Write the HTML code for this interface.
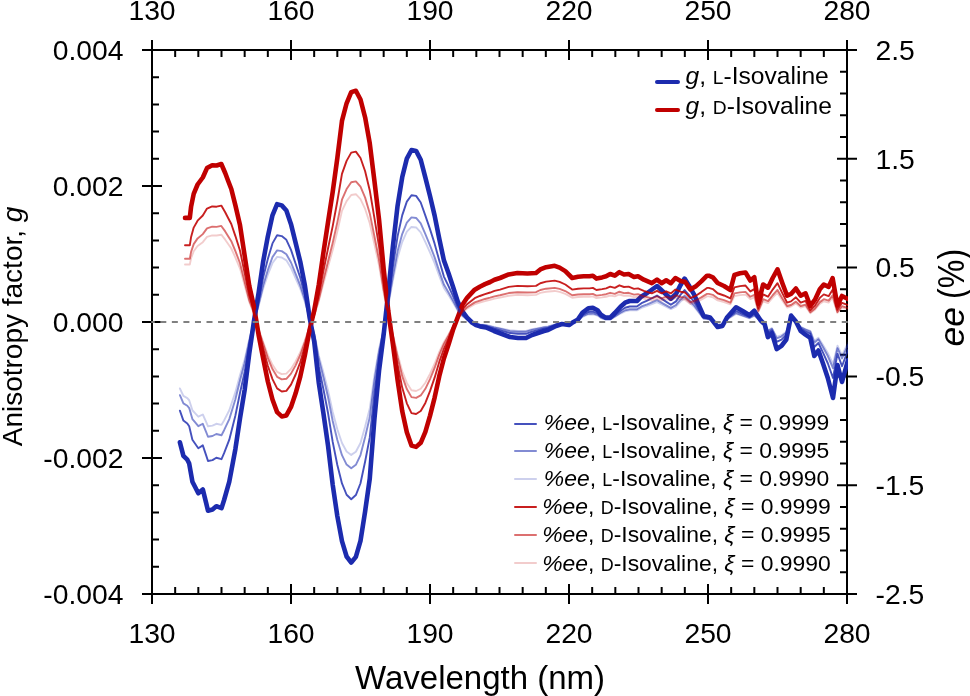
<!DOCTYPE html>
<html><head><meta charset="utf-8"><style>
html,body{margin:0;padding:0;background:#fff;width:970px;height:696px;overflow:hidden}
svg{display:block;will-change:transform}
text{font-family:"Liberation Sans",sans-serif}
</style></head><body>
<svg width="970" height="696" viewBox="0 0 970 696">
<rect width="970" height="696" fill="#fff"/>
<g stroke="#000" stroke-width="2" fill="none">
<rect x="152" y="50" width="695" height="544"/>
<path d="M152.00 40 V60 M152.00 584 V604 M175.17 50 V57 M175.17 587 V594 M198.33 50 V57 M198.33 587 V594 M221.50 50 V57 M221.50 587 V594 M244.67 50 V57 M244.67 587 V594 M267.83 50 V57 M267.83 587 V594 M291.00 40 V60 M291.00 584 V604 M314.17 50 V57 M314.17 587 V594 M337.33 50 V57 M337.33 587 V594 M360.50 50 V57 M360.50 587 V594 M383.67 50 V57 M383.67 587 V594 M406.83 50 V57 M406.83 587 V594 M430.00 40 V60 M430.00 584 V604 M453.17 50 V57 M453.17 587 V594 M476.33 50 V57 M476.33 587 V594 M499.50 50 V57 M499.50 587 V594 M522.67 50 V57 M522.67 587 V594 M545.83 50 V57 M545.83 587 V594 M569.00 40 V60 M569.00 584 V604 M592.17 50 V57 M592.17 587 V594 M615.33 50 V57 M615.33 587 V594 M638.50 50 V57 M638.50 587 V594 M661.67 50 V57 M661.67 587 V594 M684.83 50 V57 M684.83 587 V594 M708.00 40 V60 M708.00 584 V604 M731.17 50 V57 M731.17 587 V594 M754.33 50 V57 M754.33 587 V594 M777.50 50 V57 M777.50 587 V594 M800.67 50 V57 M800.67 587 V594 M823.83 50 V57 M823.83 587 V594 M847.00 40 V60 M847.00 584 V604 M142 50.00 H162 M152 77.20 H159 M152 104.40 H159 M152 131.60 H159 M152 158.80 H159 M142 186.00 H162 M152 213.20 H159 M152 240.40 H159 M152 267.60 H159 M152 294.80 H159 M142 322.00 H162 M152 349.20 H159 M152 376.40 H159 M152 403.60 H159 M152 430.80 H159 M142 458.00 H162 M152 485.20 H159 M152 512.40 H159 M152 539.60 H159 M152 566.80 H159 M142 594.00 H162 M837 50.00 H857 M840 71.76 H847 M840 93.52 H847 M840 115.28 H847 M840 137.04 H847 M837 158.80 H857 M840 180.56 H847 M840 202.32 H847 M840 224.08 H847 M840 245.84 H847 M837 267.60 H857 M840 289.36 H847 M840 311.12 H847 M840 332.88 H847 M840 354.64 H847 M837 376.40 H857 M840 398.16 H847 M840 419.92 H847 M840 441.68 H847 M840 463.44 H847 M837 485.20 H857 M840 506.96 H847 M840 528.72 H847 M840 550.48 H847 M840 572.24 H847 M837 594.00 H857"/>
</g>
<defs><clipPath id="pc"><rect x="140" y="40" width="708" height="560"/></clipPath></defs>
<g fill="none" stroke-linejoin="round" stroke-linecap="round" clip-path="url(#pc)">
<path d="M179.90 442.30 L183.40 455.80 L187.30 459.70 L189.20 463.60 L192.40 481.70 L195.00 486.80 L198.30 493.30 L202.80 489.40 L206.00 502.40 L208.00 510.70 L212.50 509.50 L216.30 506.20 L221.50 508.20 L224.10 500.00 L229.30 481.70 L235.40 448.96 L240.03 418.09 L244.67 389.84 L249.30 353.26 L253.93 321.39 L258.57 293.17 L263.20 261.41 L267.83 236.42 L272.47 215.32 L277.10 204.20 L281.73 205.38 L286.37 210.45 L291.00 224.14 L295.63 242.86 L300.27 261.81 L304.90 285.50 L309.53 317.00 L314.17 341.31 L318.80 382.99 L323.43 413.30 L328.07 445.89 L332.70 484.76 L337.33 516.07 L341.97 541.06 L346.60 556.48 L351.23 562.53 L355.87 556.85 L360.50 540.85 L365.13 511.27 L369.77 478.66 L374.40 419.10 L379.03 370.67 L383.67 334.55 L388.30 291.90 L392.93 246.34 L397.57 205.79 L402.20 177.31 L406.83 158.61 L411.47 150.01 L416.10 150.89 L420.73 159.78 L425.37 177.57 L430.00 196.01 L434.63 215.64 L439.27 238.68 L443.90 260.37 L448.53 273.25 L453.17 287.26 L457.80 301.66 L462.43 311.45 L467.07 317.62 L472.00 322.50 L476.00 325.10 L480.00 326.40 L486.00 327.50 L494.00 331.00 L502.00 334.00 L510.00 337.00 L518.00 338.00 L526.00 338.00 L532.00 335.00 L538.00 333.00 L544.00 331.00 L548.00 330.00 L556.00 326.00 L562.00 324.00 L569.00 325.00 L572.20 322.80 L578.00 319.40 L582.60 312.50 L588.30 308.40 L592.90 307.90 L597.50 310.20 L601.00 314.80 L605.60 317.60 L610.20 317.60 L614.80 313.00 L620.50 306.70 L625.10 302.70 L629.70 301.00 L636.90 301.00 L641.50 296.40 L647.20 293.00 L657.00 286.00 L664.50 293.00 L670.80 298.70 L676.00 294.00 L680.60 284.90 L684.60 278.60 L688.60 284.90 L694.40 295.20 L699.00 305.60 L703.60 316.00 L710.00 317.40 L717.60 327.00 L722.40 326.00 L727.20 317.20 L736.00 307.30 L743.10 311.30 L749.50 315.20 L754.30 310.80 L760.70 320.50 L764.70 324.30 L767.90 337.10 L771.90 333.10 L776.70 349.10 L781.50 345.90 L786.30 339.50 L791.10 315.60 L795.90 321.50 L800.70 331.00 L805.50 334.70 L810.30 337.90 L814.30 356.00 L818.40 350.50 L823.00 363.50 L827.80 378.00 L833.00 398.00 L837.50 365.00 L842.00 382.00 L848.00 360.00" stroke="#1C2BAE" stroke-width="4.6"/>
<path d="M185.00 217.90 L189.80 217.90 L191.10 206.60 L193.70 193.90 L197.60 184.50 L202.80 177.50 L207.00 168.10 L212.20 165.20 L216.60 165.50 L221.30 164.00 L225.20 173.00 L228.00 180.50 L231.30 189.00 L235.40 205.39 L240.03 225.33 L244.67 255.74 L249.30 286.06 L253.93 306.49 L258.57 334.69 L263.20 358.44 L267.83 381.49 L272.47 399.46 L277.10 412.13 L281.73 416.41 L286.37 415.43 L291.00 406.95 L295.63 393.28 L300.27 376.64 L304.90 355.00 L309.53 330.31 L314.17 310.60 L318.80 284.65 L323.43 252.52 L328.07 221.92 L332.70 191.83 L337.33 158.14 L341.97 120.92 L346.60 103.29 L351.23 92.14 L355.87 90.75 L360.50 99.48 L365.13 117.45 L369.77 143.43 L374.40 180.74 L379.03 219.41 L383.67 269.01 L388.30 311.15 L392.93 344.50 L397.57 379.87 L402.20 411.00 L406.83 432.33 L411.47 445.60 L416.10 446.88 L420.73 442.82 L425.37 431.88 L430.00 415.86 L434.63 397.57 L439.27 376.15 L443.90 358.51 L448.53 344.62 L453.17 329.32 L457.80 317.14 L462.43 304.75 L467.07 297.80 L474.70 289.70 L479.80 286.70 L485.00 284.10 L490.20 282.00 L494.50 279.80 L500.00 278.00 L508.70 274.40 L517.40 273.00 L527.40 273.50 L536.00 273.00 L540.30 269.40 L546.10 267.20 L554.70 265.80 L559.60 267.60 L565.30 271.10 L572.20 278.00 L578.00 276.80 L583.70 276.30 L589.50 276.30 L592.90 275.70 L596.40 278.60 L602.10 277.40 L606.10 276.30 L610.20 274.00 L614.80 275.70 L619.40 272.20 L624.00 274.50 L628.60 274.00 L634.00 277.00 L638.00 276.30 L643.80 279.70 L651.80 283.20 L657.00 279.70 L661.60 283.20 L666.20 280.30 L670.80 283.20 L675.40 278.00 L680.60 280.90 L685.20 282.00 L690.30 289.50 L695.50 286.60 L701.30 281.40 L707.00 275.70 L708.80 275.70 L712.80 277.30 L717.60 283.00 L724.00 286.00 L730.40 290.00 L734.40 275.00 L740.00 273.30 L745.50 272.50 L750.30 280.50 L754.30 277.30 L758.30 303.70 L763.10 284.50 L768.00 287.70 L772.70 278.00 L777.50 269.30 L782.30 282.90 L787.10 295.70 L791.00 294.00 L795.90 288.50 L800.70 295.70 L805.50 293.30 L810.30 306.00 L815.00 299.70 L819.80 289.30 L823.80 284.50 L828.60 286.90 L832.60 278.10 L837.40 305.50 L842.00 296.00 L848.00 299.00" stroke="#C00000" stroke-width="4.6"/>
<path d="M179.90 410.64 L183.40 420.58 L187.30 423.46 L189.20 426.33 L192.40 439.67 L195.00 443.42 L198.30 448.21 L202.80 445.34 L206.00 454.92 L208.00 461.03 L212.50 460.15 L216.30 457.72 L221.50 459.19 L224.10 453.15 L229.30 439.67 L235.40 415.54 L240.03 392.80 L244.67 371.98 L249.30 345.04 L253.93 321.55 L258.57 300.76 L263.20 277.36 L267.83 258.94 L272.47 243.40 L277.10 235.20 L281.73 236.08 L286.37 239.81 L291.00 249.90 L295.63 263.69 L300.27 277.65 L304.90 295.11 L309.53 318.31 L314.17 336.23 L318.80 366.94 L323.43 389.27 L328.07 413.28 L332.70 441.92 L337.33 464.99 L341.97 483.41 L346.60 494.76 L351.23 499.22 L355.87 495.03 L360.50 483.25 L365.13 461.45 L369.77 437.43 L374.40 393.55 L379.03 357.86 L383.67 331.24 L388.30 299.82 L392.93 266.25 L397.57 236.38 L402.20 215.39 L406.83 201.61 L411.47 195.28 L416.10 195.92 L420.73 202.48 L425.37 215.59 L430.00 229.17 L434.63 243.63 L439.27 260.61 L443.90 276.59 L448.53 286.08 L453.17 296.40 L457.80 307.01 L462.43 314.22 L467.07 318.77 L472.00 322.37 L476.00 324.28 L480.00 325.24 L486.00 326.05 L494.00 328.63 L502.00 330.84 L510.00 333.05 L518.00 333.79 L526.00 333.79 L532.00 331.58 L538.00 330.10 L544.00 328.63 L548.00 327.89 L556.00 324.95 L562.00 323.47 L569.00 324.21 L572.20 322.59 L578.00 320.08 L582.60 315.00 L588.30 311.98 L592.90 311.61 L597.50 313.31 L601.00 316.70 L605.60 318.76 L610.20 318.76 L614.80 315.37 L620.50 310.73 L625.10 307.78 L629.70 306.53 L636.90 306.53 L641.50 303.14 L647.20 300.63 L657.00 295.48 L664.50 300.63 L670.80 304.83 L676.00 301.37 L680.60 294.66 L684.60 290.02 L688.60 294.66 L694.40 302.25 L699.00 309.92 L703.60 317.58 L710.00 318.61 L717.60 325.68 L722.40 324.95 L727.20 318.46 L736.00 311.17 L743.10 314.12 L749.50 316.99 L754.30 313.75 L760.70 320.89 L764.70 323.69 L767.90 333.13 L771.90 330.18 L776.70 341.97 L781.50 339.61 L786.30 334.89 L791.10 317.28 L795.90 321.63 L800.70 328.63 L805.50 331.36 L810.30 333.72 L814.30 347.05 L818.40 343.00 L823.00 352.58 L827.80 363.26 L833.00 378.00 L837.50 353.68 L842.00 366.21 L848.00 350.00" stroke="#1C2BAE" stroke-opacity="0.82" stroke-width="1.9"/>
<path d="M179.90 395.14 L183.40 403.35 L187.30 405.72 L189.20 408.09 L192.40 419.10 L195.00 422.20 L198.30 426.15 L202.80 423.78 L206.00 431.68 L208.00 436.73 L212.50 436.00 L216.30 433.99 L221.50 435.21 L224.10 430.22 L229.30 419.10 L235.40 399.19 L240.03 380.42 L244.67 363.25 L249.30 341.01 L253.93 321.63 L258.57 304.47 L263.20 285.16 L267.83 269.97 L272.47 257.14 L277.10 250.38 L281.73 251.10 L286.37 254.18 L291.00 262.50 L295.63 273.88 L300.27 285.40 L304.90 299.81 L309.53 318.96 L314.17 333.74 L318.80 359.08 L323.43 377.51 L328.07 397.32 L332.70 420.96 L337.33 440.00 L341.97 455.19 L346.60 464.56 L351.23 468.24 L355.87 464.79 L360.50 455.06 L365.13 437.08 L369.77 417.25 L374.40 381.04 L379.03 351.59 L383.67 329.63 L388.30 303.70 L392.93 276.00 L397.57 251.34 L402.20 234.03 L406.83 222.66 L411.47 217.43 L416.10 217.96 L420.73 223.37 L425.37 234.19 L430.00 245.40 L434.63 257.33 L439.27 271.34 L443.90 284.53 L448.53 292.36 L453.17 300.88 L457.80 309.63 L462.43 315.58 L467.07 319.33 L472.00 322.30 L476.00 323.88 L480.00 324.68 L486.00 325.34 L494.00 327.47 L502.00 329.30 L510.00 331.12 L518.00 331.73 L526.00 331.73 L532.00 329.90 L538.00 328.69 L544.00 327.47 L548.00 326.86 L556.00 324.43 L562.00 323.22 L569.00 323.82 L572.20 322.49 L578.00 320.42 L582.60 316.22 L588.30 313.73 L592.90 313.43 L597.50 314.83 L601.00 317.62 L605.60 319.32 L610.20 319.32 L614.80 316.53 L620.50 312.70 L625.10 310.27 L629.70 309.23 L636.90 309.23 L641.50 306.44 L647.20 304.37 L657.00 300.11 L664.50 304.37 L670.80 307.83 L676.00 304.98 L680.60 299.44 L684.60 295.61 L688.60 299.44 L694.40 305.71 L699.00 312.03 L703.60 318.35 L710.00 319.20 L717.60 325.04 L722.40 324.43 L727.20 319.08 L736.00 313.06 L743.10 315.49 L749.50 317.87 L754.30 315.19 L760.70 321.09 L764.70 323.40 L767.90 331.18 L771.90 328.75 L776.70 338.48 L781.50 336.53 L786.30 332.64 L791.10 318.11 L795.90 321.70 L800.70 327.47 L805.50 329.72 L810.30 331.67 L814.30 342.67 L818.40 339.33 L823.00 347.23 L827.80 356.05 L833.00 368.21 L837.50 348.14 L842.00 358.48 L848.00 345.10" stroke="#1C2BAE" stroke-opacity="0.55" stroke-width="1.9"/>
<path d="M179.90 388.48 L183.40 395.94 L187.30 398.09 L189.20 400.25 L192.40 410.25 L195.00 413.07 L198.30 416.66 L202.80 414.51 L206.00 421.69 L208.00 426.28 L212.50 425.61 L216.30 423.79 L221.50 424.89 L224.10 420.36 L229.30 410.25 L235.40 392.16 L240.03 375.10 L244.67 359.49 L249.30 339.28 L253.93 321.66 L258.57 306.07 L263.20 288.52 L267.83 274.71 L272.47 263.05 L277.10 256.90 L281.73 257.56 L286.37 260.36 L291.00 267.93 L295.63 278.27 L300.27 288.74 L304.90 301.83 L309.53 319.24 L314.17 332.67 L318.80 355.70 L323.43 372.45 L328.07 390.46 L332.70 411.94 L337.33 429.25 L341.97 443.05 L346.60 451.57 L351.23 454.91 L355.87 451.78 L360.50 442.94 L365.13 426.59 L369.77 408.57 L374.40 375.66 L379.03 348.90 L383.67 328.93 L388.30 305.36 L392.93 280.19 L397.57 257.78 L402.20 242.04 L406.83 231.71 L411.47 226.96 L416.10 227.44 L420.73 232.36 L425.37 242.19 L430.00 252.38 L434.63 263.23 L439.27 275.96 L443.90 287.94 L448.53 295.06 L453.17 302.80 L457.80 310.76 L462.43 316.17 L467.07 319.58 L472.00 322.28 L476.00 323.71 L480.00 324.43 L486.00 325.04 L494.00 326.97 L502.00 328.63 L510.00 330.29 L518.00 330.84 L526.00 330.84 L532.00 329.18 L538.00 328.08 L544.00 326.97 L548.00 326.42 L556.00 324.21 L562.00 323.11 L569.00 323.66 L572.20 322.44 L578.00 320.56 L582.60 316.75 L588.30 314.48 L592.90 314.21 L597.50 315.48 L601.00 318.02 L605.60 319.57 L610.20 319.57 L614.80 317.03 L620.50 313.55 L625.10 311.33 L629.70 310.40 L636.90 310.40 L641.50 307.85 L647.20 305.97 L657.00 302.11 L664.50 305.97 L670.80 309.12 L676.00 306.53 L680.60 301.50 L684.60 298.02 L688.60 301.50 L694.40 307.19 L699.00 312.94 L703.60 318.68 L710.00 319.46 L717.60 324.76 L722.40 324.21 L727.20 319.35 L736.00 313.88 L743.10 316.09 L749.50 318.24 L754.30 315.81 L760.70 321.17 L764.70 323.27 L767.90 330.34 L771.90 328.13 L776.70 336.98 L781.50 335.21 L786.30 331.67 L791.10 318.46 L795.90 321.72 L800.70 326.97 L805.50 329.02 L810.30 330.79 L814.30 340.79 L818.40 337.75 L823.00 344.93 L827.80 352.95 L833.00 364.00 L837.50 345.76 L842.00 355.16 L848.00 343.00" stroke="#1C2BAE" stroke-opacity="0.22" stroke-width="1.9"/>
<path d="M185.00 245.30 L189.80 245.30 L191.10 236.97 L193.70 227.62 L197.60 220.69 L202.80 215.53 L207.00 208.61 L212.20 206.47 L216.60 206.69 L221.30 205.59 L225.20 212.22 L228.00 217.74 L231.30 224.01 L235.40 236.08 L240.03 250.77 L244.67 273.18 L249.30 295.52 L253.93 310.57 L258.57 331.35 L263.20 348.85 L267.83 365.83 L272.47 379.07 L277.10 388.41 L281.73 391.56 L286.37 390.84 L291.00 384.59 L295.63 374.52 L300.27 362.26 L304.90 346.31 L309.53 328.12 L314.17 313.60 L318.80 294.48 L323.43 270.80 L328.07 248.26 L332.70 226.09 L337.33 201.27 L341.97 173.84 L346.60 160.85 L351.23 152.64 L355.87 151.62 L360.50 158.05 L365.13 171.29 L369.77 190.43 L374.40 217.92 L379.03 246.41 L383.67 282.95 L388.30 314.01 L392.93 338.58 L397.57 364.64 L402.20 387.58 L406.83 403.29 L411.47 413.07 L416.10 414.01 L420.73 411.02 L425.37 402.96 L430.00 391.15 L434.63 377.68 L439.27 361.90 L443.90 348.90 L448.53 338.67 L453.17 327.39 L457.80 318.42 L462.43 309.29 L467.07 304.17 L474.70 298.20 L479.80 295.99 L485.00 294.08 L490.20 292.53 L494.50 290.91 L500.00 289.58 L508.70 286.93 L517.40 285.90 L527.40 286.27 L536.00 285.90 L540.30 283.24 L546.10 281.62 L554.70 280.59 L559.60 281.92 L565.30 284.50 L572.20 289.58 L578.00 288.70 L583.70 288.33 L589.50 288.33 L592.90 287.89 L596.40 290.02 L602.10 289.14 L606.10 288.33 L610.20 286.63 L614.80 287.89 L619.40 285.31 L624.00 287.00 L628.60 286.63 L634.00 288.84 L638.00 288.33 L643.80 290.83 L651.80 293.41 L657.00 290.83 L661.60 293.41 L666.20 291.28 L670.80 293.41 L675.40 289.58 L680.60 291.72 L685.20 292.53 L690.30 298.05 L695.50 295.92 L701.30 292.09 L707.00 287.89 L708.80 287.89 L712.80 289.07 L717.60 293.26 L724.00 295.48 L730.40 298.42 L734.40 287.37 L740.00 286.12 L745.50 285.53 L750.30 291.42 L754.30 289.07 L758.30 308.52 L763.10 294.37 L768.00 296.73 L772.70 289.58 L777.50 283.17 L782.30 293.19 L787.10 302.62 L791.00 301.37 L795.90 297.32 L800.70 302.62 L805.50 300.85 L810.30 310.21 L815.00 305.57 L819.80 297.91 L823.80 294.37 L828.60 296.14 L832.60 289.65 L837.40 309.84 L842.00 302.84 L848.00 305.05" stroke="#C00000" stroke-opacity="0.88" stroke-width="1.9"/>
<path d="M185.00 258.71 L189.80 258.71 L191.10 251.84 L193.70 244.12 L197.60 238.40 L202.80 234.14 L207.00 228.43 L212.20 226.67 L216.60 226.85 L221.30 225.94 L225.20 231.41 L228.00 235.97 L231.30 241.14 L235.40 251.10 L240.03 263.22 L244.67 281.71 L249.30 300.15 L253.93 312.57 L258.57 329.72 L263.20 344.16 L267.83 358.17 L272.47 369.10 L277.10 376.80 L281.73 379.40 L286.37 378.81 L291.00 373.65 L295.63 365.34 L300.27 355.22 L304.90 342.06 L309.53 327.05 L314.17 315.07 L318.80 299.29 L323.43 279.75 L328.07 261.15 L332.70 242.86 L337.33 222.37 L341.97 199.74 L346.60 189.02 L351.23 182.25 L355.87 181.40 L360.50 186.71 L365.13 197.64 L369.77 213.43 L374.40 236.11 L379.03 259.62 L383.67 289.78 L388.30 315.40 L392.93 335.68 L397.57 357.19 L402.20 376.11 L406.83 389.08 L411.47 397.15 L416.10 397.93 L420.73 395.46 L425.37 388.81 L430.00 379.07 L434.63 367.95 L439.27 354.92 L443.90 344.20 L448.53 335.75 L453.17 326.45 L457.80 319.05 L462.43 311.51 L467.07 307.28 L474.70 302.36 L479.80 300.54 L485.00 298.96 L490.20 297.68 L494.50 296.34 L500.00 295.25 L508.70 293.06 L517.40 292.21 L527.40 292.51 L536.00 292.21 L540.30 290.02 L546.10 288.68 L554.70 287.83 L559.60 288.92 L565.30 291.05 L572.20 295.25 L578.00 294.52 L583.70 294.21 L589.50 294.21 L592.90 293.85 L596.40 295.61 L602.10 294.88 L606.10 294.21 L610.20 292.82 L614.80 293.85 L619.40 291.72 L624.00 293.12 L628.60 292.82 L634.00 294.64 L638.00 294.21 L643.80 296.28 L651.80 298.41 L657.00 296.28 L661.60 298.41 L666.20 296.65 L670.80 298.41 L675.40 295.25 L680.60 297.01 L685.20 297.68 L690.30 302.24 L695.50 300.48 L701.30 297.32 L707.00 293.85 L708.80 293.85 L712.80 294.82 L717.60 298.29 L724.00 300.11 L730.40 302.54 L734.40 293.42 L740.00 292.39 L745.50 291.90 L750.30 296.77 L754.30 294.82 L758.30 310.87 L763.10 299.20 L768.00 301.15 L772.70 295.25 L777.50 289.96 L782.30 298.23 L787.10 306.01 L791.00 304.98 L795.90 301.63 L800.70 306.01 L805.50 304.55 L810.30 312.27 L815.00 308.44 L819.80 302.12 L823.80 299.20 L828.60 300.66 L832.60 295.31 L837.40 311.97 L842.00 306.19 L848.00 308.02" stroke="#C00000" stroke-opacity="0.56" stroke-width="1.9"/>
<path d="M185.00 264.47 L189.80 264.47 L191.10 258.23 L193.70 251.21 L197.60 246.02 L202.80 242.15 L207.00 236.95 L212.20 235.35 L216.60 235.52 L221.30 234.69 L225.20 239.66 L228.00 243.81 L231.30 248.50 L235.40 257.56 L240.03 268.58 L244.67 285.39 L249.30 302.14 L253.93 313.43 L258.57 329.02 L263.20 342.14 L267.83 354.88 L272.47 364.81 L277.10 371.80 L281.73 374.17 L286.37 373.63 L291.00 368.94 L295.63 361.39 L300.27 352.19 L304.90 340.24 L309.53 326.59 L314.17 315.70 L318.80 301.36 L323.43 283.60 L328.07 266.70 L332.70 250.07 L337.33 231.45 L341.97 210.88 L346.60 201.14 L351.23 194.98 L355.87 194.21 L360.50 199.04 L365.13 208.97 L369.77 223.32 L374.40 243.94 L379.03 265.31 L383.67 292.72 L388.30 316.01 L392.93 334.43 L397.57 353.98 L402.20 371.18 L406.83 382.97 L411.47 390.30 L416.10 391.01 L420.73 388.76 L425.37 382.72 L430.00 373.87 L434.63 363.76 L439.27 351.92 L443.90 342.18 L448.53 334.50 L453.17 326.04 L457.80 319.31 L462.43 312.47 L467.07 308.62 L474.70 304.15 L479.80 302.49 L485.00 301.06 L490.20 299.90 L494.50 298.68 L500.00 297.69 L508.70 295.70 L517.40 294.92 L527.40 295.20 L536.00 294.92 L540.30 292.93 L546.10 291.72 L554.70 290.94 L559.60 291.94 L565.30 293.87 L572.20 297.69 L578.00 297.02 L583.70 296.75 L589.50 296.75 L592.90 296.41 L596.40 298.02 L602.10 297.35 L606.10 296.75 L610.20 295.48 L614.80 296.41 L619.40 294.48 L624.00 295.75 L628.60 295.48 L634.00 297.13 L638.00 296.75 L643.80 298.63 L651.80 300.56 L657.00 298.63 L661.60 300.56 L666.20 298.96 L670.80 300.56 L675.40 297.69 L680.60 299.29 L685.20 299.90 L690.30 304.04 L695.50 302.44 L701.30 299.56 L707.00 296.41 L708.80 296.41 L712.80 297.30 L717.60 300.45 L724.00 302.11 L730.40 304.32 L734.40 296.03 L740.00 295.09 L745.50 294.65 L750.30 299.07 L754.30 297.30 L758.30 311.89 L763.10 301.28 L768.00 303.05 L772.70 297.69 L777.50 292.88 L782.30 300.39 L787.10 307.47 L791.00 306.53 L795.90 303.49 L800.70 307.47 L805.50 306.14 L810.30 313.16 L815.00 309.68 L819.80 303.93 L823.80 301.28 L828.60 302.60 L832.60 297.74 L837.40 312.88 L842.00 307.63 L848.00 309.29" stroke="#C00000" stroke-opacity="0.20" stroke-width="1.9"/>
</g>
<path d="M151.3 322 H848" stroke="#808080" stroke-width="2" stroke-dasharray="6 5.55" stroke-dashoffset="2.55"/>
<g font-family="Liberation Sans, sans-serif" font-size="28.3" fill="#000">
<text x="152.0" y="19.8" text-anchor="middle">130</text>
<text x="152.0" y="643.3" text-anchor="middle">130</text>
<text x="291.0" y="19.8" text-anchor="middle">160</text>
<text x="291.0" y="643.3" text-anchor="middle">160</text>
<text x="430.0" y="19.8" text-anchor="middle">190</text>
<text x="430.0" y="643.3" text-anchor="middle">190</text>
<text x="569.0" y="19.8" text-anchor="middle">220</text>
<text x="569.0" y="643.3" text-anchor="middle">220</text>
<text x="708.0" y="19.8" text-anchor="middle">250</text>
<text x="708.0" y="643.3" text-anchor="middle">250</text>
<text x="847.0" y="19.8" text-anchor="middle">280</text>
<text x="847.0" y="643.3" text-anchor="middle">280</text>
<text x="123.5" y="60.0" text-anchor="end">0.004</text>
<text x="123.5" y="196.0" text-anchor="end">0.002</text>
<text x="123.5" y="332.0" text-anchor="end">0.000</text>
<text x="123.5" y="468.0" text-anchor="end">-0.002</text>
<text x="123.5" y="604.0" text-anchor="end">-0.004</text>
<text x="875.5" y="59.7">2.5</text>
<text x="875.5" y="168.5">1.5</text>
<text x="875.5" y="277.3">0.5</text>
<text x="875.5" y="386.1">-0.5</text>
<text x="875.5" y="494.9">-1.5</text>
<text x="875.5" y="603.7">-2.5</text>
</g>
<text font-family="Liberation Sans, sans-serif" font-size="33" x="355" y="689">Wavelength (nm)</text>
<text font-family="Liberation Sans, sans-serif" font-size="28" transform="translate(21.9,446.3) rotate(-90)">Anisotropy factor, <tspan font-style="italic">g</tspan></text>
<text font-family="Liberation Sans, sans-serif" font-size="35.5" font-style="italic" transform="translate(964.3,346.4) rotate(-90)">ee</text>
<text font-family="Liberation Sans, sans-serif" font-size="36" textLength="50" lengthAdjust="spacingAndGlyphs" transform="translate(964.2,298.9) rotate(-90)">(%)</text>
<g stroke-linecap="round">
<path d="M657 82.1 H678" stroke="#1C2BAE" stroke-width="4"/>
<path d="M657 110 H678" stroke="#C00000" stroke-width="4"/>
</g>
<text font-family="Liberation Sans, sans-serif" font-size="24.6" x="685.5" y="83.5"><tspan font-style="italic">g</tspan>, <tspan font-size="19.2">L</tspan>-Isovaline</text>
<text font-family="Liberation Sans, sans-serif" font-size="24.6" x="685.5" y="114.1"><tspan font-style="italic">g</tspan>, <tspan font-size="19.2">D</tspan>-Isovaline</text>
<path d="M515 424.0 H536" stroke="#1C2BAE" stroke-opacity="0.82" stroke-width="2" stroke-linecap="round"/>
<text font-family="Liberation Sans, sans-serif" font-size="22.9" x="543.8" y="430.2"><tspan font-style="italic">%ee</tspan>, <tspan font-size="17.9">L</tspan>-Isovaline, <tspan font-style="italic">&#958;</tspan> = 0.9999</text>
<path d="M515 451.0 H536" stroke="#1C2BAE" stroke-opacity="0.55" stroke-width="2" stroke-linecap="round"/>
<text font-family="Liberation Sans, sans-serif" font-size="22.9" x="543.8" y="458.2"><tspan font-style="italic">%ee</tspan>, <tspan font-size="17.9">L</tspan>-Isovaline, <tspan font-style="italic">&#958;</tspan> = 0.9995</text>
<path d="M515 479.0 H536" stroke="#1C2BAE" stroke-opacity="0.22" stroke-width="2" stroke-linecap="round"/>
<text font-family="Liberation Sans, sans-serif" font-size="22.9" x="543.8" y="486.3"><tspan font-style="italic">%ee</tspan>, <tspan font-size="17.9">L</tspan>-Isovaline, <tspan font-style="italic">&#958;</tspan> = 0.9990</text>
<path d="M515 507.0 H536" stroke="#C00000" stroke-opacity="0.88" stroke-width="2" stroke-linecap="round"/>
<text font-family="Liberation Sans, sans-serif" font-size="22.9" x="542.2" y="514.4"><tspan font-style="italic">%ee</tspan>, <tspan font-size="17.9">D</tspan>-Isovaline, <tspan font-style="italic">&#958;</tspan> = 0.9999</text>
<path d="M515 535.0 H536" stroke="#C00000" stroke-opacity="0.56" stroke-width="2" stroke-linecap="round"/>
<text font-family="Liberation Sans, sans-serif" font-size="22.9" x="542.2" y="542.4"><tspan font-style="italic">%ee</tspan>, <tspan font-size="17.9">D</tspan>-Isovaline, <tspan font-style="italic">&#958;</tspan> = 0.9995</text>
<path d="M515 563.0 H536" stroke="#C00000" stroke-opacity="0.20" stroke-width="2" stroke-linecap="round"/>
<text font-family="Liberation Sans, sans-serif" font-size="22.9" x="542.2" y="570.5"><tspan font-style="italic">%ee</tspan>, <tspan font-size="17.9">D</tspan>-Isovaline, <tspan font-style="italic">&#958;</tspan> = 0.9990</text>
</svg>
</body></html>
